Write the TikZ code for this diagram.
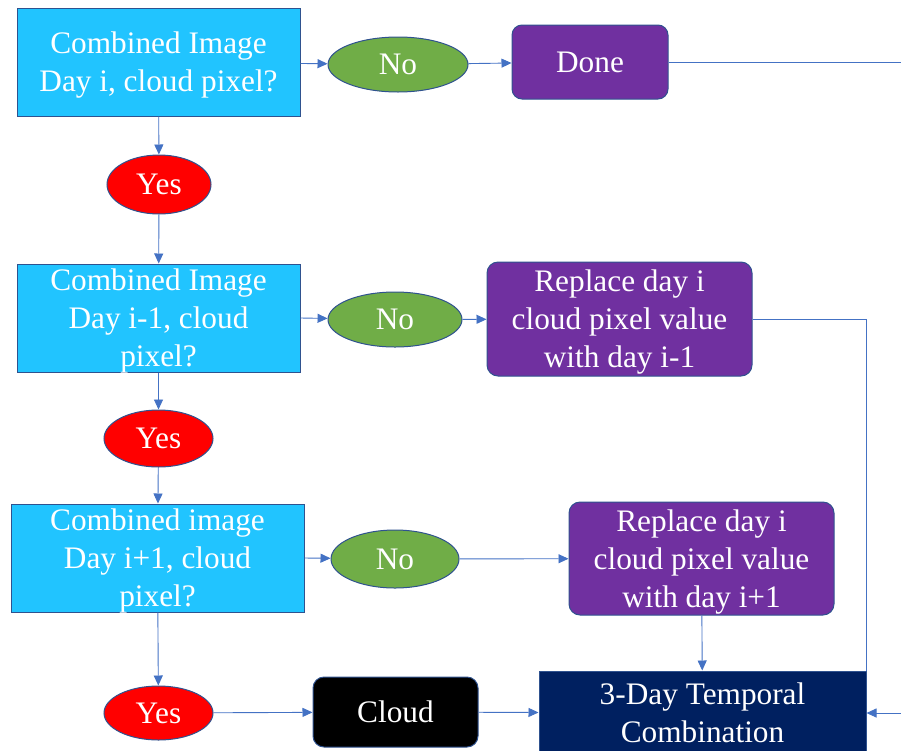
\documentclass[tikz,border=0pt]{standalone}
\usepackage{fontspec}
\setmainfont{Liberation Serif}
\usetikzlibrary{arrows.meta,shapes.geometric}

\definecolor{skyfill}{HTML}{21C4FF}
\definecolor{leaf}{HTML}{70AD47}
\definecolor{plum}{HTML}{7030A0}
\definecolor{navy}{HTML}{002060}
\definecolor{rim}{HTML}{2F528F}
\definecolor{wire}{HTML}{4472C4}

\tikzset{
  base/.style={draw=rim, line width=1pt, text=white, inner sep=0pt,
    align=center, text depth=0pt, font=\fontsize{31.3}{38}\selectfont},
  query/.style={base, rectangle, fill=skyfill},
  answerno/.style={base, ellipse, fill=leaf},
  answeryes/.style={base, ellipse, fill=red},
  action/.style={base, rectangle, rounded corners=11pt, fill=plum},
  cloudbox/.style={base, rectangle, rounded corners=11pt, fill=black},
  result/.style={base, rectangle, fill=navy},
  link/.style={draw=wire, line width=0.9pt},
  arr/.style={link, -{Triangle[length=10pt,width=9pt]}},
}

\begin{document}
\begin{tikzpicture}[x=1pt, y=-1pt]
  \useasboundingbox (0,0) rectangle (901,750);
  \clip (0,0) rectangle (901,750);

  % first row: day i
  \node[query, minimum width=283pt, minimum height=108pt] (q1) at (158.5,62)
    {Combined Image\\Day i, cloud pixel?};
  \node[answerno, minimum width=140pt, minimum height=55pt] (no1) at (398,64.5) {No};
  \node[action, minimum width=156pt, minimum height=74pt, rounded corners=10pt] (done) at (590,62) {Done};
  \node[answeryes, minimum width=104pt, minimum height=59pt] (yes1) at (159,184.5) {Yes};

  % second row: day i-1
  \node[query, minimum width=283pt, minimum height=108pt] (q2) at (158.5,318)
    {Combined Image\\Day i-1, cloud\\pixel?};
  \node[answerno, minimum width=134pt, minimum height=55pt] (no2) at (395,319.5) {No};
  \node[action, minimum width=265pt, minimum height=114pt] (rep1) at (619.5,319)
    {Replace day i\\cloud pixel value\\with day i-1};
  \node[answeryes, minimum width=109pt, minimum height=57pt] (yes2) at (158.5,438.5) {Yes};

  % third row: day i+1
  \node[query, minimum width=293pt, minimum height=108pt] (q3) at (157.5,558)
    {Combined image\\Day i+1, cloud\\pixel?};
  \node[answerno, minimum width=128pt, minimum height=58pt] (no3) at (395,559) {No};
  \node[action, minimum width=265pt, minimum height=113pt] (rep2) at (701.5,558.5)
    {Replace day i\\cloud pixel value\\with day i+1};
  \node[answeryes, minimum width=109pt, minimum height=54pt] (yes3) at (158.5,713) {Yes};

  % bottom row
  \node[cloudbox, minimum width=165pt, minimum height=70pt] (cloud) at (395.5,712) {Cloud};
  \node[result, minimum width=327pt, minimum height=84pt] (tc) at (702.5,713)
    {3-Day Temporal\\Combination};

  % loose ends at the right margin
  \coordinate (offR) at (901,62);
  \coordinate (inR) at (901,713);

  % connectors
  \draw[arr] (q1) -- (no1);
  \draw[arr] (no1) -- (done);
  \draw[link] (done) -- (offR);
  \draw[arr] (q1) -- (yes1);
  \draw[arr] (yes1) -- (q2);

  \draw[arr] (q2.east) -- (no2);
  \draw[arr] (no2) -- (rep1);
  \draw[link] (rep1.east) -| (tc.north east);
  \draw[arr] (q2) -- (yes2);
  \draw[arr] (yes2) -- (q3);

  \draw[arr] (q3.east) -- (no3);
  \draw[arr] (no3) -- (rep2);
  \draw[arr] (rep2) -- (tc);
  \draw[arr] (q3) -- (yes3);

  \draw[arr] (yes3) -- (cloud);
  \draw[arr] (cloud) -- (tc);
  \draw[arr] (inR) -- (tc.east);
\end{tikzpicture}
\end{document}
